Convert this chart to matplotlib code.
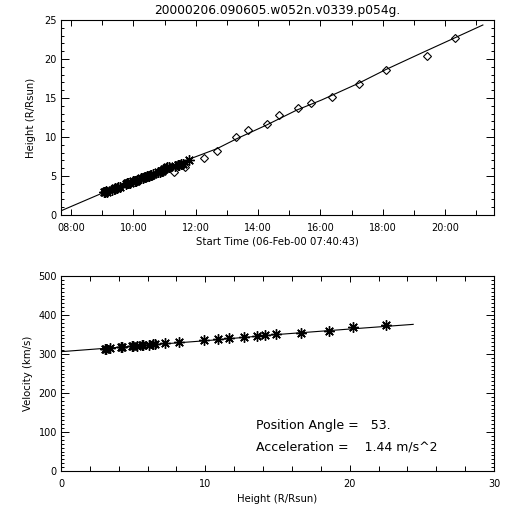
import matplotlib
matplotlib.use("Agg")
import matplotlib.pyplot as plt
from matplotlib.ticker import MultipleLocator, FuncFormatter

# time axis in decimal hours of 06-Feb-00, start 07:40:43
t_start = 7 + 40 / 60 + 43 / 3600
t_end = t_start + 50000 / 3600

# LASCO C2 points (asterisks)
c2_time = [9.06, 9.10, 9.13, 9.17, 9.33, 9.38, 9.42, 9.47, 9.52, 9.56, 9.76, 9.80,
           9.84, 9.88, 10.00, 10.04, 10.08, 10.13, 10.25, 10.30, 10.38, 10.45, 10.50,
           10.57, 10.63, 10.80, 10.85, 10.92, 10.98, 11.04, 11.09, 11.15, 11.35,
           11.42, 11.47, 11.53, 11.58, 11.80]
c2_height = [2.95, 3.0, 3.05, 3.0, 3.25, 3.35, 3.45, 3.5, 3.6, 3.65, 4.0, 4.05,
             4.1, 4.15, 4.3, 4.35, 4.4, 4.5, 4.7, 4.75, 4.9, 5.0, 5.05,
             5.15, 5.25, 5.45, 5.55, 5.7, 5.9, 6.0, 6.1, 6.2, 6.3,
             6.4, 6.45, 6.5, 6.6, 7.0]

# LASCO C3 points (diamonds)
c3_time = [11.29, 11.66, 12.27, 12.68, 13.30, 13.69, 14.28, 14.67, 15.27, 15.70,
           16.36, 17.23, 18.10, 19.43, 20.33]
c3_height = [5.5, 6.15, 7.27, 8.2, 9.96, 10.9, 11.67, 12.82, 13.76, 14.32,
             15.17, 16.76, 18.6, 20.38, 22.65]

# fitted height-time curve
fit_time = [7.686, 9.0, 10.0, 11.0, 11.82, 12.68, 13.30, 14.28, 15.24, 16.04,
            17.23, 18.10, 19.18, 20.33, 21.21]
fit_height = [0.55, 2.8, 4.4, 5.95, 7.2, 8.5, 9.75, 11.55, 13.45, 14.75,
              16.9, 18.65, 20.65, 22.75, 24.36]

# velocity vs height
vel_height = [3.05, 3.15, 3.4, 4.15, 4.2, 4.9, 5.0, 5.3, 5.6, 5.7, 6.1, 6.4, 6.5,
              7.2, 8.2, 9.94, 10.9, 11.65, 12.7, 13.55, 14.1, 14.9, 16.6, 18.6, 20.2, 22.5]
vel_value = [314, 314, 316, 317, 318, 320, 320, 321, 322, 323, 324, 325, 326,
             329, 331, 335, 339, 341, 344, 346, 348, 352, 355, 359, 368, 374]
vfit_height = [0.0, 5.0, 10.0, 15.0, 20.0, 24.4]
vfit_value = [306, 320, 334, 350, 364, 376]

plt.rcParams['font.family'] = ['DejaVu Sans']
fig = plt.figure(figsize=(5.12, 5.12), dpi=100)

ax1 = fig.add_axes([61 / 512, 1 - 215 / 512, 433 / 512, 195 / 512])
ax2 = fig.add_axes([61 / 512, 1 - 471 / 512, 433 / 512, 195 / 512])

star = (8, 2, 0)

ax1.plot(fit_time, fit_height, color='black', lw=0.8)
ax1.plot(c2_time, c2_height, ls='none', marker=star, ms=7.5, mew=1.0, color='black')
ax1.plot(c3_time, c3_height, ls='none', marker='D', ms=4, mfc='none', mec='black', mew=0.8)
ax1.set_xlim(t_start, t_end)
ax1.set_ylim(0, 25)
ax1.xaxis.set_major_locator(MultipleLocator(2))
ax1.xaxis.set_minor_locator(MultipleLocator(1))
ax1.xaxis.set_major_formatter(FuncFormatter(lambda v, p: "%02d:00" % int(round(v))))
ax1.yaxis.set_major_locator(MultipleLocator(5))
ax1.yaxis.set_minor_locator(MultipleLocator(1))
ax1.set_xlabel("Start Time (06-Feb-00 07:40:43)", fontsize=7.3, labelpad=2)
ax1.set_ylabel("Height (R/Rsun)", fontsize=7.3, labelpad=6)
ax1.set_title("20000206.090605.w052n.v0339.p054g.", fontsize=8.8, pad=4)

ax2.plot(vfit_height, vfit_value, color='black', lw=0.8)
ax2.plot(vel_height, vel_value, ls='none', marker=star, ms=7.5, mew=1.0, color='black')
ax2.set_xlim(0, 30)
ax2.set_ylim(0, 500)
ax2.xaxis.set_major_locator(MultipleLocator(10))
ax2.xaxis.set_minor_locator(MultipleLocator(2))
ax2.yaxis.set_major_locator(MultipleLocator(100))
ax2.yaxis.set_minor_locator(MultipleLocator(10))
ax2.set_xlabel("Height (R/Rsun)", fontsize=7.3, labelpad=3)
ax2.set_ylabel("Velocity (km/s)", fontsize=7.3, labelpad=4)
ax2.text(0.45, 0.233, "Position Angle =   53.", transform=ax2.transAxes,
         fontsize=9, va='center', ha='left')
ax2.text(0.45, 0.123, "Acceleration =    1.44 m/s^2", transform=ax2.transAxes,
         fontsize=9, va='center', ha='left')

for ax in (ax1, ax2):
    for s in ax.spines.values():
        s.set_linewidth(0.8)
    ax.tick_params(which='both', direction='in', top=True, right=True,
                   labelsize=7, width=0.7)
    ax.tick_params(axis='x', which='both', pad=6)
    ax.tick_params(axis='y', which='both', pad=3)
    ax.tick_params(axis='y', which='major', length=5.5)
    ax.tick_params(axis='y', which='minor', length=2.5)
    ax.tick_params(axis='x', which='major', length=4)
    ax.tick_params(axis='x', which='minor', length=3.5)

fig.savefig("out.png", dpi=100)
